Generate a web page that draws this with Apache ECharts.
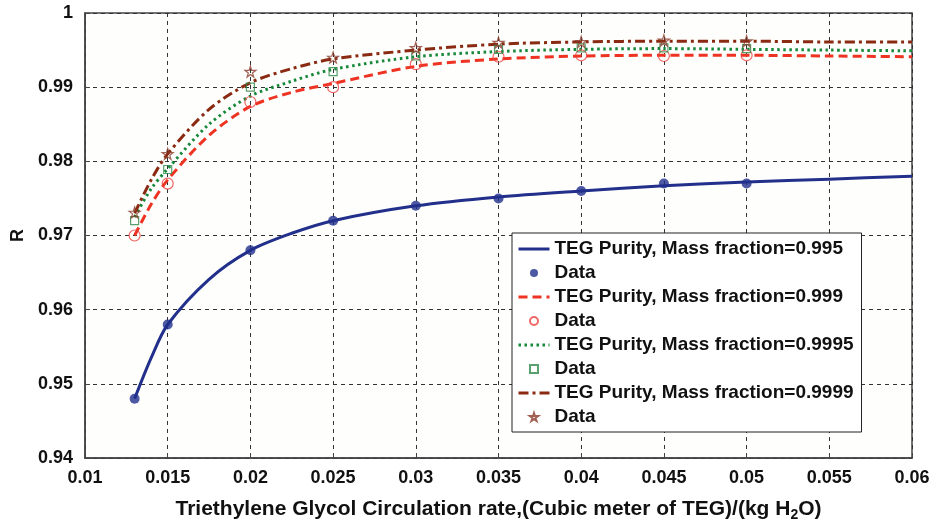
<!DOCTYPE html>
<html>
<head>
<meta charset="utf-8">
<script src="https://cdn.jsdelivr.net/npm/echarts@6/dist/echarts.min.js"></script>
<style>
  html, body { margin: 0; padding: 0; background: #fff; }
  #chart { width: 937px; height: 527px; }
</style>
</head>
<body>
<div id="chart"></div>
<script>
  // curves
  var xCurve = [0.013, 0.014, 0.015, 0.0175, 0.02, 0.0225, 0.025, 0.03, 0.035, 0.04, 0.045, 0.05, 0.055, 0.06];
  var curve995  = [0.948, 0.9535, 0.958, 0.9641, 0.968, 0.9703, 0.972, 0.974, 0.9752, 0.976, 0.9767, 0.9772, 0.9776, 0.978];
  var curve999  = [0.970, 0.9742, 0.9775, 0.9835, 0.9874, 0.9893, 0.9905, 0.9928, 0.9938, 0.9942, 0.9943, 0.9943, 0.9942, 0.9941];
  var curve9995 = [0.9725, 0.9763, 0.979, 0.985, 0.9888, 0.9908, 0.9924, 0.9941, 0.9948, 0.9951, 0.9952, 0.9951, 0.995, 0.9949];
  var curve9999 = [0.973, 0.9775, 0.981, 0.987, 0.9906, 0.9925, 0.9938, 0.995, 0.9958, 0.9961, 0.9962, 0.9962, 0.9961, 0.9961];

  // measured data points
  var xData = [0.013, 0.015, 0.02, 0.025, 0.03, 0.035, 0.04, 0.045, 0.05];
  var data995  = [0.948, 0.958, 0.968, 0.972, 0.974, 0.975, 0.976, 0.977, 0.977];
  var data999  = [0.970, 0.977, 0.988, 0.990, 0.9931, 0.9941, 0.9943, 0.9942, 0.9943];
  var data9995 = [0.972, 0.9789, 0.990, 0.9921, 0.9942, 0.9951, 0.9953, 0.9953, 0.9952];
  var data9999 = [0.9731, 0.981, 0.9921, 0.994, 0.9953, 0.996, 0.9961, 0.9963, 0.9962];

  var lineNames = ['TEG Purity, Mass fraction=0.995', 'TEG Purity, Mass fraction=0.999',
                   'TEG Purity, Mass fraction=0.9995', 'TEG Purity, Mass fraction=0.9999'];
  var dataNames = ['Data1', 'Data2', 'Data3', 'Data4'];

  var xMin = 0.01, xMax = 0.06, xStep = 0.005;
  var yMin = 0.94, yMax = 1, yStep = 0.01;

  function pairs(xs, ys) {
    return xs.map(function (x, i) { return [x, ys[i]]; });
  }

  var starPath = 'path://M50,0 L61,35 L98,35 L68,57 L79,91 L50,70 L21,91 L32,57 L2,35 L39,35 Z';
  var squarePath = 'path://M0,0 L10,0 L10,10 L0,10 Z';
  var fontFam = 'Liberation Sans, Arial, sans-serif';

  // legend: line entries hide the dot ECharts puts on line icons
  var legendItems = [];
  for (var i = 0; i < 4; i++) {
    legendItems.push({ name: lineNames[i], itemStyle: { opacity: 0 } });
    legendItems.push({ name: dataNames[i] });
  }

  var myChart = echarts.init(document.getElementById('chart'));
  option = {
    backgroundColor: '#fff',
    animation: false,
    grid: {
      left: 85, right: 25, top: 13, bottom: 66,
      show: true,
      backgroundColor: '#fefefc',
      borderColor: '#444',
      borderWidth: 1.5
    },
    legend: {
      orient: 'vertical',
      left: 512,
      top: 233,
      backgroundColor: '#fff',
      borderColor: '#222',
      borderWidth: 1,
      borderRadius: 0,
      padding: [6, 8, 5, 5],
      itemWidth: 31,
      itemHeight: 8,
      itemGap: 4,
      lineStyle: { width: 3 },
      data: legendItems,
      formatter: function (name) {
        return name.indexOf('Data') === 0 ? 'Data' : name;
      },
      textStyle: {
        color: '#111',
        fontFamily: fontFam,
        fontWeight: 'bold',
        fontSize: 19,
        lineHeight: 20
      }
    },
    xAxis: {
      type: 'value',
      min: xMin, max: xMax, interval: xStep,
      name: 'Triethylene Glycol Circulation rate,(Cubic meter of TEG)/(kg H{sub|2}O)',
      nameLocation: 'middle',
      nameGap: 38,
      nameTextStyle: {
        color: '#111', fontFamily: fontFam, fontWeight: 'bold', fontSize: 21,
        rich: {
          sub: { fontSize: 14, fontWeight: 'bold', fontFamily: fontFam, color: '#111', padding: [12, 0, 0, 0] }
        }
      },
      axisLine: { show: true, lineStyle: { color: '#444', width: 1.5 } },
      axisTick: { show: true, inside: true, length: 5, lineStyle: { color: '#444' } },
      axisLabel: {
        color: '#111', fontFamily: fontFam, fontWeight: 'bold', fontSize: 18, margin: 11,
        formatter: function (v) { return String(parseFloat(v.toFixed(4))); }
      },
      splitLine: { show: true, lineStyle: { color: '#333', type: [4, 4], width: 1 } }
    },
    yAxis: {
      type: 'value',
      min: yMin, max: yMax, interval: yStep,
      name: 'R',
      nameLocation: 'middle',
      nameGap: 58,
      nameTextStyle: { color: '#111', fontFamily: fontFam, fontWeight: 'bold', fontSize: 18 },
      axisLine: { show: true, lineStyle: { color: '#444', width: 1.5 } },
      axisTick: { show: true, inside: true, length: 5, lineStyle: { color: '#444' } },
      axisLabel: {
        color: '#111', fontFamily: fontFam, fontWeight: 'bold', fontSize: 18, margin: 12,
        formatter: function (v) { return String(parseFloat(v.toFixed(4))); }
      },
      splitLine: { show: true, lineStyle: { color: '#333', type: [4, 4], width: 1 } }
    },
    series: [
      {
        name: lineNames[0], type: 'line', data: pairs(xCurve, curve995),
        smooth: 0.3, symbol: 'none', z: 3,
        lineStyle: { color: '#22308c', width: 3, type: 'solid' },
        itemStyle: { color: '#22308c' }
      },
      {
        name: dataNames[0], type: 'scatter', data: pairs(xData, data995),
        symbol: 'circle', symbolSize: 10, z: 4,
        itemStyle: { color: '#22308c' }
      },
      {
        name: lineNames[1], type: 'line', data: pairs(xCurve, curve999),
        smooth: 0.3, symbol: 'none', z: 3,
        lineStyle: { color: '#ee3322', width: 3, type: [9, 5] },
        itemStyle: { color: '#ee3322' }
      },
      {
        name: dataNames[1], type: 'scatter', data: pairs(xData, data999),
        symbol: 'circle', symbolSize: 11, z: 4,
        itemStyle: { color: 'rgba(0,0,0,0)', borderColor: '#ee4040', borderWidth: 1.2 }
      },
      {
        name: lineNames[2], type: 'line', data: pairs(xCurve, curve9995),
        smooth: 0.3, symbol: 'none', z: 3,
        lineStyle: { color: '#15883a', width: 3, type: [2.5, 3.5] },
        itemStyle: { color: '#15883a' }
      },
      {
        name: dataNames[2], type: 'scatter', data: pairs(xData, data9995),
        symbol: squarePath, symbolSize: 8, z: 4,
        itemStyle: { color: 'rgba(0,0,0,0)', borderColor: '#2e8a48', borderWidth: 1.2 }
      },
      {
        name: lineNames[3], type: 'line', data: pairs(xCurve, curve9999),
        smooth: 0.3, symbol: 'none', z: 3,
        lineStyle: { color: '#8a2a12', width: 3, type: [10, 4, 3, 4] },
        itemStyle: { color: '#8a2a12' }
      },
      {
        name: dataNames[3], type: 'scatter', data: pairs(xData, data9999),
        symbol: starPath, symbolSize: 11, z: 4,
        itemStyle: { color: 'rgba(0,0,0,0)', borderColor: '#8a3a2a', borderWidth: 1.2 }
      }
    ]
  };

  myChart.setOption(option);
</script>
</body>
</html>
